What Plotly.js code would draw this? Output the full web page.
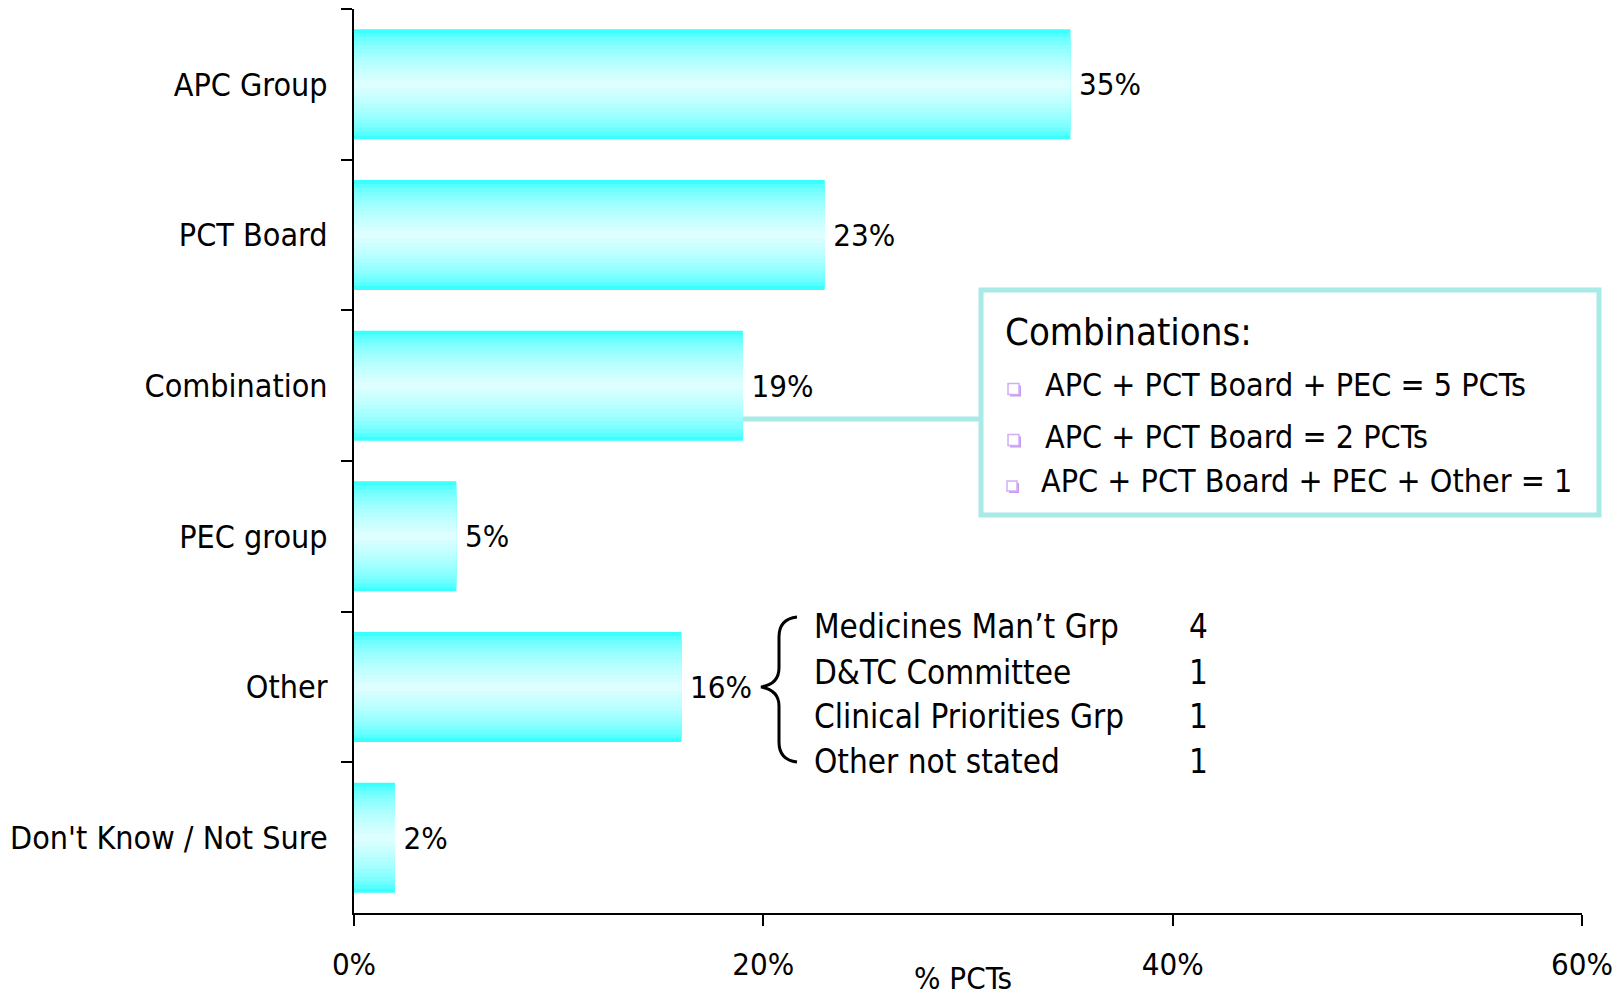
<!DOCTYPE html>
<html>
<head>
<meta charset="utf-8">
<script src="https://cdn.plot.ly/plotly-3.0.1.min.js"></script>
<style>html,body{margin:0;padding:0;background:#fff;}#chart{width:1623px;height:998px;}</style>
</head>
<body>
<div id="chart"></div>
<script>
// ---- data ----
const categories = ["APC Group", "PCT Board", "Combination", "PEC group", "Other", "Don't Know / Not Sure"];
const shares = [0.35, 0.23, 0.19, 0.05, 0.16, 0.02];
const xTickVals = [0, 0.2, 0.4, 0.6];
const xTickText = ["0%", "20%", "40%", "60%"];
const combinationItems = ["APC + PCT Board + PEC = 5 PCTs", "APC + PCT Board = 2 PCTs", "APC + PCT Board + PEC + Other = 1"];
const otherItems = ["Medicines Man\u2019t Grp", "D&TC Committee", "Clinical Priorities Grp", "Other not stated"];
const otherCounts = [4, 1, 1, 1];

// ---- layout helpers ----
const W = 1623, H = 998;
const M = {l: 354, r: 41, t: 9, b: 85};
const PW = W - M.l - M.r, PH = H - M.t - M.b;
const px = x => (x - M.l) / PW;
const py = y => (H - M.b - y) / PH;
const FONT = '"Liberation Sans Narrow", "Arial Narrow", "DejaVu Sans Condensed", sans-serif';

// gradient bars built from overlaid layers of the same data
const N = 14, BW = 0.73;
const traces = [];
for (let k = 0; k < N; k++) {
  const t = (k + 0.5) / N;
  const f = Math.pow(t, 0.45);
  const r = Math.round(10 + (224 - 10) * f);
  const tr = {
    type: 'bar', orientation: 'h',
    x: shares, y: categories,
    width: BW * (1 - k / N),
    marker: {color: `rgb(${r},255,255)`, line: {width: 0}},
    hoverinfo: 'skip', showlegend: false, cliponaxis: false
  };
  if (k === 0) {
    tr.texttemplate = '\u2009%{x:.0%}';
    tr.textposition = 'outside';
    tr.constraintext = 'none';
    tr.textfont = {family: FONT, size: 31, color: '#000'};
    tr.hoverinfo = 'x+y';
  }
  traces.push(tr);
}

// brace path (pixel points converted to paper coordinates)
const bracePts = "M 797 617 Q 779 619 779 637 L 779 668 Q 779 684 761 687 Q 779 690 779 706 L 779 742 Q 779 760 797 762";
const bracePath = bracePts.replace(/(-?\d+(?:\.\d+)?) (-?\d+(?:\.\d+)?)/g, (m, a, b) => px(+a).toFixed(5) + ' ' + py(+b).toFixed(5));

const shapes = [
  // combinations box
  {type: 'rect', xref: 'paper', yref: 'paper', x0: px(981), x1: px(1599), y0: py(515), y1: py(290),
   line: {color: '#A8EAE6', width: 5}, fillcolor: 'rgba(255,255,255,0)', layer: 'above'},
  // connector from Combination bar
  {type: 'line', xref: 'x', yref: 'paper', x0: shares[2], x1: px(981) * 0.6, y0: py(419), y1: py(419),
   line: {color: '#A8EAE6', width: 5}},
  // brace
  {type: 'path', xref: 'paper', yref: 'paper', path: bracePath, line: {color: '#000', width: 3}}
];

const annotations = [];
annotations.push({xref: 'paper', yref: 'paper', x: px(1003), y: py(332), xanchor: 'left', yanchor: 'middle',
  text: 'Combinations:', showarrow: false, font: {family: FONT, size: 38, color: '#000'}});
const comboY = [385, 437, 481], comboX = [1043, 1043, 1039], bulletX = [1008, 1008, 1007], bulletY = [389, 440, 486], bulletS = [11, 11, 10];
combinationItems.forEach((s, i) => {
  annotations.push({xref: 'paper', yref: 'paper', x: px(comboX[i]), y: py(comboY[i]), xanchor: 'left', yanchor: 'middle',
    text: s, showarrow: false, font: {family: FONT, size: 32, color: '#000'}});
  const x0 = bulletX[i], s0 = bulletS[i], y0 = bulletY[i] - s0 / 2;
  shapes.push({type: 'rect', xref: 'paper', yref: 'paper', x0: px(x0 + 2), x1: px(x0 + s0 + 2), y0: py(y0 + s0 + 2), y1: py(y0 + 2),
    line: {width: 0}, fillcolor: '#C49AF3', layer: 'above'});
  shapes.push({type: 'rect', xref: 'paper', yref: 'paper', x0: px(x0), x1: px(x0 + s0), y0: py(y0 + s0), y1: py(y0),
    line: {width: 1.5, color: '#CFAEF7'}, fillcolor: '#FFFFFF', layer: 'above'});
});
const otherY = [626, 672, 716, 761];
otherItems.forEach((s, i) => {
  annotations.push({xref: 'paper', yref: 'paper', x: px(812), y: py(otherY[i]), xanchor: 'left', yanchor: 'middle',
    text: s, showarrow: false, font: {family: FONT, size: 33, color: '#000'}});
  annotations.push({xref: 'paper', yref: 'paper', x: px(1198), y: py(otherY[i]), xanchor: 'center', yanchor: 'middle',
    text: String(otherCounts[i]), showarrow: false, font: {family: FONT, size: 33, color: '#000'}});
});
annotations.push({xref: 'paper', yref: 'paper', x: px(963), y: py(978), xanchor: 'center', yanchor: 'middle',
  text: '% PCTs', showarrow: false, font: {family: FONT, size: 31, color: '#000'}});

const layout = {
  width: W, height: H,
  margin: M,
  paper_bgcolor: '#fff', plot_bgcolor: '#fff',
  barmode: 'overlay',
  showlegend: false,
  font: {family: FONT, color: '#000'},
  xaxis: {
    range: [0, 0.6], tickvals: xTickVals, ticktext: xTickText,
    showgrid: false, zeroline: false,
    showline: true, linecolor: '#000', linewidth: 2,
    ticks: 'outside', ticklen: 11, tickwidth: 2, tickcolor: '#000',
    ticklabelstandoff: 12,
    tickfont: {family: FONT, size: 31, color: '#000'},
    fixedrange: true
  },
  yaxis: {
    type: 'category', categoryorder: 'array', categoryarray: categories,
    autorange: 'reversed',
    showgrid: false, zeroline: false,
    showline: true, linecolor: '#000', linewidth: 2,
    ticks: 'outside', tickson: 'boundaries', ticklen: 11, tickwidth: 2, tickcolor: '#000',
    ticklabelstandoff: 18,
    tickfont: {family: FONT, size: 32, color: '#000'},
    fixedrange: true
  },
  shapes: shapes,
  annotations: annotations
};

Plotly.newPlot('chart', traces, layout, {displayModeBar: false, staticPlot: true});
</script>
</body>
</html>
